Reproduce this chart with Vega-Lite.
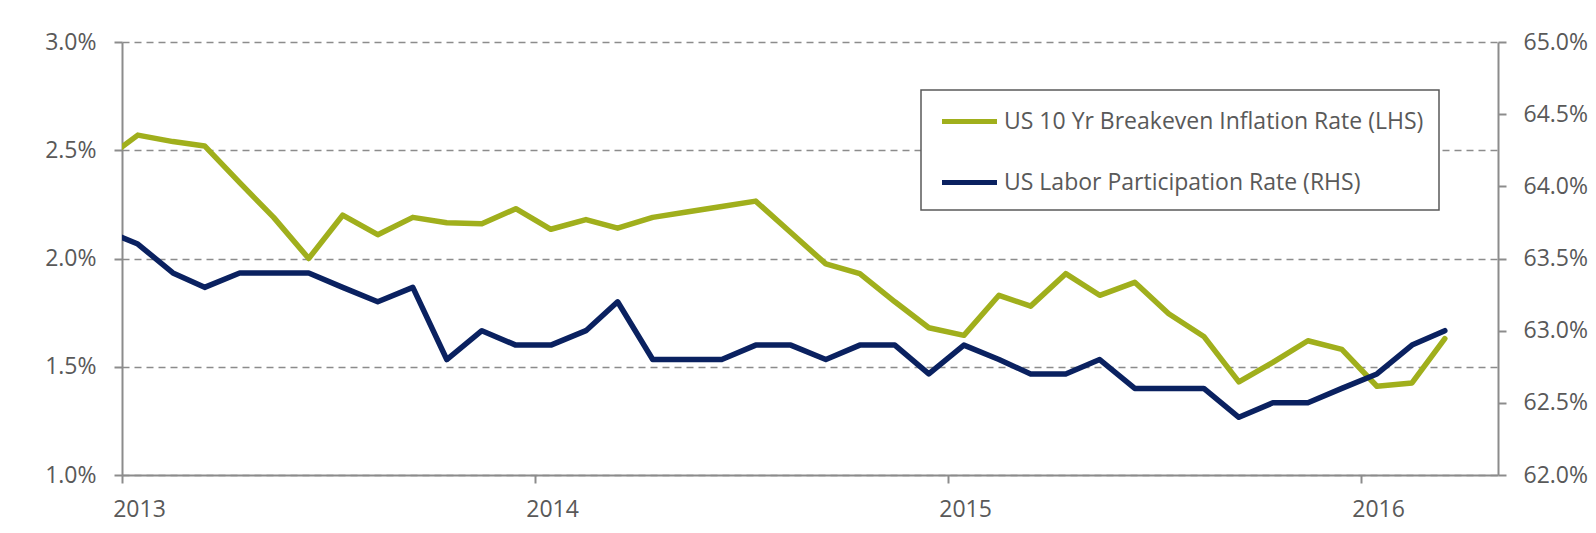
{
  "$schema": "https://vega.github.io/schema/vega-lite/v6.json",
  "width": 1376,
  "height": 433,
  "autosize": {"type": "none"},
  "padding": {"left": 122, "top": 42, "right": 98, "bottom": 58},
  "background": "white",
  "config": {
    "view": {"stroke": null},
    "font": "Open Sans",
    "axis": {
      "labelFont": "Open Sans",
      "labelFontSize": 23,
      "labelColor": "#595959",
      "domainColor": "#8c8c8c",
      "domainWidth": 2,
      "tickColor": "#8c8c8c",
      "tickWidth": 2,
      "tickSize": 8,
      "title": null
    },
    "legend": {
      "orient": "none",
      "legendX": 799,
      "legendY": 48,
      "title": null,
      "symbolType": "M-2,0H2",
      "symbolSize": 756,
      "symbolStrokeWidth": 5,
      "symbolOffset": 17,
      "labelFont": "Open Sans",
      "labelFontSize": 23,
      "labelColor": "#595959",
      "labelLimit": 700,
      "labelOffset": 18,
      "strokeColor": "#595959",
      "strokeWidth": 1.5,
      "fillColor": "white",
      "padding": 15,
      "rowPadding": 32
    }
  },
  "data": {
    "values": [
      {"date": "2012-12-15", "breakeven": 2.45, "participation": 63.7},
      {"date": "2013-01-15", "breakeven": 2.57, "participation": 63.6},
      {"date": "2013-02-15", "breakeven": 2.54, "participation": 63.4},
      {"date": "2013-03-15", "breakeven": 2.52, "participation": 63.3},
      {"date": "2013-04-15", "breakeven": 2.35, "participation": 63.4},
      {"date": "2013-05-15", "breakeven": 2.19, "participation": 63.4},
      {"date": "2013-06-15", "breakeven": 2.0, "participation": 63.4},
      {"date": "2013-07-15", "breakeven": 2.2, "participation": 63.3},
      {"date": "2013-08-15", "breakeven": 2.11, "participation": 63.2},
      {"date": "2013-09-15", "breakeven": 2.19, "participation": 63.3},
      {"date": "2013-10-15", "breakeven": 2.165, "participation": 62.8},
      {"date": "2013-11-15", "breakeven": 2.16, "participation": 63.0},
      {"date": "2013-12-15", "breakeven": 2.23, "participation": 62.9},
      {"date": "2014-01-15", "breakeven": 2.135, "participation": 62.9},
      {"date": "2014-02-15", "breakeven": 2.18, "participation": 63.0},
      {"date": "2014-03-15", "breakeven": 2.14, "participation": 63.2},
      {"date": "2014-04-15", "breakeven": 2.19, "participation": 62.8},
      {"date": "2014-05-15", "breakeven": 2.215, "participation": 62.8},
      {"date": "2014-06-15", "breakeven": 2.24, "participation": 62.8},
      {"date": "2014-07-15", "breakeven": 2.265, "participation": 62.9},
      {"date": "2014-08-15", "breakeven": 2.12, "participation": 62.9},
      {"date": "2014-09-15", "breakeven": 1.975, "participation": 62.8},
      {"date": "2014-10-15", "breakeven": 1.93, "participation": 62.9},
      {"date": "2014-11-15", "breakeven": 1.8, "participation": 62.9},
      {"date": "2014-12-15", "breakeven": 1.68, "participation": 62.7},
      {"date": "2015-01-15", "breakeven": 1.645, "participation": 62.9},
      {"date": "2015-02-15", "breakeven": 1.83, "participation": 62.8},
      {"date": "2015-03-15", "breakeven": 1.78, "participation": 62.7},
      {"date": "2015-04-15", "breakeven": 1.93, "participation": 62.7},
      {"date": "2015-05-15", "breakeven": 1.83, "participation": 62.8},
      {"date": "2015-06-15", "breakeven": 1.89, "participation": 62.6},
      {"date": "2015-07-15", "breakeven": 1.745, "participation": 62.6},
      {"date": "2015-08-15", "breakeven": 1.64, "participation": 62.6},
      {"date": "2015-09-15", "breakeven": 1.43, "participation": 62.4},
      {"date": "2015-10-15", "breakeven": 1.52, "participation": 62.5},
      {"date": "2015-11-15", "breakeven": 1.62, "participation": 62.5},
      {"date": "2015-12-15", "breakeven": 1.58, "participation": 62.6},
      {"date": "2016-01-15", "breakeven": 1.41, "participation": 62.7},
      {"date": "2016-02-15", "breakeven": 1.425, "participation": 62.9},
      {"date": "2016-03-15", "breakeven": 1.63, "participation": 63.0}
    ]
  },
  "encoding": {
    "x": {
      "field": "date",
      "type": "temporal",
      "scale": {
        "type": "utc",
        "domain": [
          {"year": 2013, "month": 1, "date": 1, "utc": true},
          {"year": 2016, "month": 5, "date": 1, "utc": true}
        ]
      },
      "axis": {
        "values": [
          {"year": 2013, "month": 1, "date": 1, "utc": true},
          {"year": 2014, "month": 1, "date": 1, "utc": true},
          {"year": 2015, "month": 1, "date": 1, "utc": true},
          {"year": 2016, "month": 1, "date": 1, "utc": true}
        ],
        "labelExpr": "utcFormat(datum.value, '%Y')",
        "labelOffset": 17,
        "labelPadding": 15,
        "grid": false,
        "labelFlush": false,
        "labelOverlap": false
      }
    }
  },
  "layer": [
    {
      "mark": {"type": "line", "strokeWidth": 5.5, "strokeJoin": "round", "strokeCap": "round", "clip": true},
      "encoding": {
        "y": {
          "field": "breakeven",
          "type": "quantitative",
          "scale": {"domain": [1, 3], "nice": false, "zero": false},
          "axis": {
            "orient": "left",
            "values": [1, 1.5, 2, 2.5, 3],
            "labelExpr": "format(datum.value, '.1f') + '%'",
            "labelPadding": 18,
            "grid": true,
            "gridDash": [7, 5],
            "gridColor": "#8c8c8c",
            "gridWidth": 1.6
          }
        },
        "color": {
          "datum": "US 10 Yr Breakeven Inflation Rate (LHS)",
          "type": "nominal",
          "scale": {
            "domain": ["US 10 Yr Breakeven Inflation Rate (LHS)", "US Labor Participation Rate (RHS)"],
            "range": ["#A0AF1C", "#0A2160"]
          }
        }
      }
    },
    {
      "mark": {"type": "line", "strokeWidth": 5.5, "strokeJoin": "round", "strokeCap": "round", "clip": true},
      "encoding": {
        "y": {
          "field": "participation",
          "type": "quantitative",
          "scale": {"domain": [62, 65], "nice": false, "zero": false},
          "axis": {
            "orient": "right",
            "values": [62, 62.5, 63, 63.5, 64, 64.5, 65],
            "labelExpr": "format(datum.value, '.1f') + '%'",
            "labelPadding": 17,
            "grid": false
          }
        },
        "color": {
          "datum": "US Labor Participation Rate (RHS)",
          "type": "nominal"
        }
      }
    }
  ],
  "resolve": {"scale": {"y": "independent"}}
}
